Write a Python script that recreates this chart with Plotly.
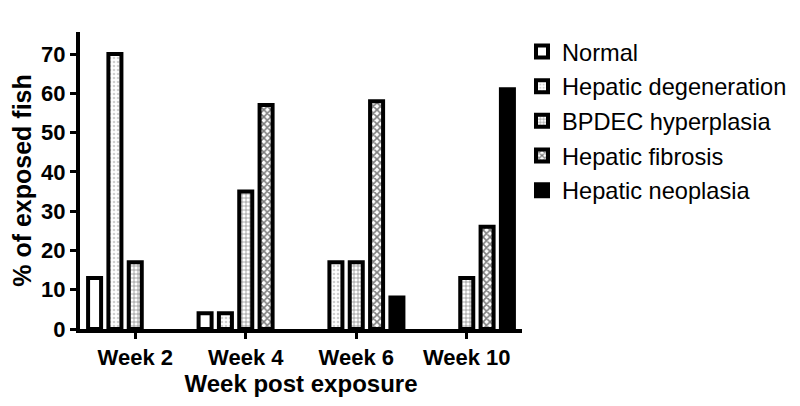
import plotly.graph_objects as go

categories = ["Week 2", "Week 4", "Week 6", "Week 10"]
normal = [13, 4, 0, 0]
degeneration = [70, 4, 17, 0]
bpdec = [17, 35, 17, 13]
fibrosis = [0, 57, 58, 26]
neoplasia = [0, 0, 8, 61]

series = [
    ("Normal", normal, dict(color="white")),
    ("Hepatic degeneration", degeneration,
     dict(color="white", pattern=dict(shape=".", fgcolor="#a0a0a0", bgcolor="white", size=4, solidity=0.35))),
    ("BPDEC hyperplasia", bpdec,
     dict(color="white", pattern=dict(shape="+", fgcolor="black", bgcolor="white", size=4, solidity=0.3))),
    ("Hepatic fibrosis", fibrosis,
     dict(color="white", pattern=dict(shape="x", fgcolor="black", bgcolor="white", size=5, solidity=0.55))),
    ("Hepatic neoplasia", neoplasia, dict(color="black")),
]

fig = go.Figure()
for i, (name, vals, marker) in enumerate(series):
    marker = dict(marker)
    marker["line"] = dict(color="black", width=4)
    fig.add_trace(go.Bar(
        x=categories, y=[v if v != 0 else None for v in vals], name=name,
        marker=marker, legendgroup=str(i),
    ))

bold = dict(family="Arial, Liberation Sans, sans-serif", color="black", weight="bold")

fig.update_layout(
    width=800, height=406,
    margin=dict(l=69, r=286, t=24, b=85),
    paper_bgcolor="white", plot_bgcolor="white",
    barmode="group", bargap=0.08, bargroupgap=0.36,
    showlegend=True,
    legend=dict(
        x=1.0, y=1.008, xanchor="left", yanchor="top",
        font=dict(family="Arial, Liberation Sans, sans-serif", size=23.6, color="black"),
        traceorder="grouped", tracegroupgap=1, itemwidth=30,
    ),
    xaxis=dict(
        range=[-0.5, 3.5], showline=True, linecolor="black", linewidth=4,
        ticks="outside", ticklen=6, tickwidth=3, tickcolor="black",
        tickfont=dict(size=22, **bold), showgrid=False, zeroline=False,
        title=dict(text="Week post exposure", font=dict(size=24, **bold), standoff=1),
    ),
    yaxis=dict(
        range=[0, 75.6], showline=True, linecolor="black", linewidth=4,
        ticks="outside", ticklen=6, tickwidth=3, tickcolor="black",
        tickvals=[0, 10, 20, 30, 40, 50, 60, 70],
        tickfont=dict(size=22, **bold), showgrid=False, zeroline=False,
        title=dict(text="% of exposed fish", font=dict(size=25, **bold), standoff=4),
    ),
)

fig.write_html("out.html")
